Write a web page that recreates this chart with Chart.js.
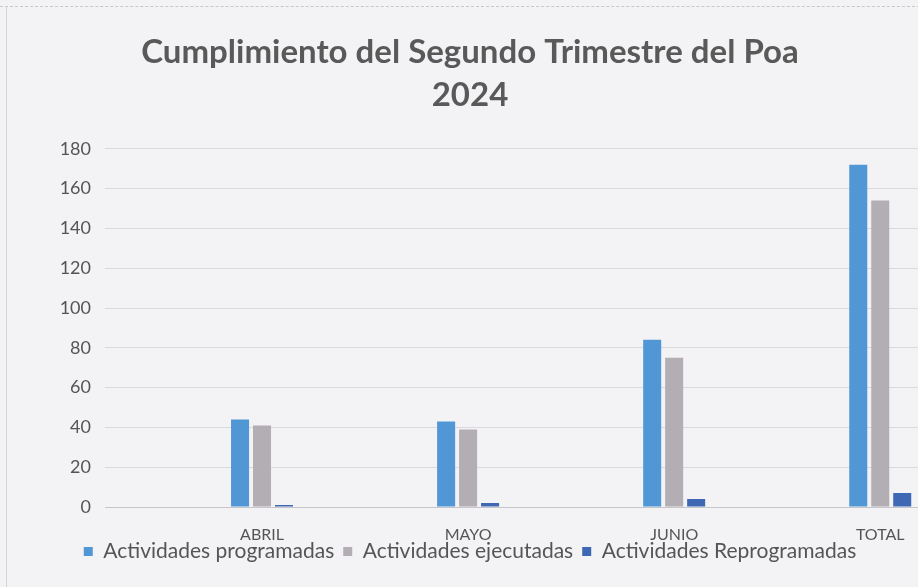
<!DOCTYPE html>
<html>
<head>
<meta charset="utf-8">
<script src="https://cdn.jsdelivr.net/npm/chart.js@4"></script>
<style>
  html, body { margin: 0; padding: 0; background: #f3f3f5; overflow: hidden; }
  #wrap { position: relative; width: 940px; height: 587px; }
  #wrap::before { content: ''; position: absolute; left: 0; right: 0; top: 6px; border-top: 1px dashed #c8c8cc; }
  #wrap::after { content: ''; position: absolute; top: 6px; bottom: 0; left: 6px; border-left: 1px solid #d4d4d8; }
</style>
</head>
<body>
<div id="wrap"><canvas id="poaChart" width="940" height="587"></canvas></div>
<script>
// Cumplimiento del Segundo Trimestre del Poa 2024
const meses = ['ABRIL', 'MAYO', 'JUNIO', 'TOTAL'];
const programadas = [44, 43, 84, 172];
const ejecutadas = [41, 39, 75, 154];
const reprogramadas = [1, 2, 4, 7];
const yTicks = [0, 20, 40, 60, 80, 100, 120, 140, 160, 180];

const puntos = arr => arr.map((v, i) => ({ x: i, y: v }));
const fuente = 'Lato, "Open Sans", sans-serif';

// la leyenda va pegada a las etiquetas del eje, como en Excel
const subirLeyenda = {
  id: 'subirLeyenda',
  afterLayout(chart) {
    const lg = chart.legend;
    if (lg) { lg.top -= 9; lg.bottom -= 9; }
  },
};

const ctx = document.getElementById('poaChart').getContext('2d');
new Chart(ctx, {
  type: 'bar',
  data: {
    datasets: [{
      label: 'Actividades programadas',
      data: puntos(programadas),
      backgroundColor: '#5197d6',
    }, {
      label: 'Actividades ejecutadas',
      data: puntos(ejecutadas),
      backgroundColor: '#b3adb4',
    }, {
      label: 'Actividades Reprogramadas',
      data: puntos(reprogramadas),
      backgroundColor: '#3e68b4',
    }],
  },
  plugins: [subirLeyenda],
  options: {
    responsive: false,
    animation: false,
    categoryPercentage: 0.32,
    barPercentage: 0.82,
    layout: { padding: { left: 0, right: 0, top: 0, bottom: 6 } },
    scales: {
      x: {
        type: 'linear',
        offset: false,
        min: -0.762,
        max: 3.29,
        grid: { display: false, drawTicks: false },
        border: { display: true, color: '#c6c6ca' },
        afterBuildTicks: s => { s.ticks = meses.map((m, i) => ({ value: i })); },
        afterFit: s => { s.height = 34; },
        ticks: {
          padding: 18,
          color: '#555555',
          font: { family: fuente, size: 16 },
          callback: v => meses[v],
        },
      },
      y: {
        min: 0,
        max: 180,
        afterBuildTicks: s => { s.ticks = yTicks.map(v => ({ value: v })); },
        afterFit: s => { s.width = 105; },
        grid: { color: '#d9d9de', drawTicks: false },
        border: { display: false },
        ticks: {
          padding: 14,
          color: '#555555',
          font: { family: fuente, size: 18 },
        },
      },
    },
    plugins: {
      title: {
        display: true,
        text: ['Cumplimiento del Segundo Trimestre del Poa', '2024'],
        color: '#595959',
        font: { family: fuente, size: 33, weight: 'bold', lineHeight: 1.3 },
        padding: { top: 31, bottom: 32 },
      },
      legend: {
        position: 'bottom',
        labels: {
          boxWidth: 9,
          boxHeight: 9,
          padding: 9,
          color: '#555555',
          font: { family: fuente, size: 21 },
        },
      },
      tooltip: { enabled: false },
    },
  },
});
</script>
</body>
</html>
